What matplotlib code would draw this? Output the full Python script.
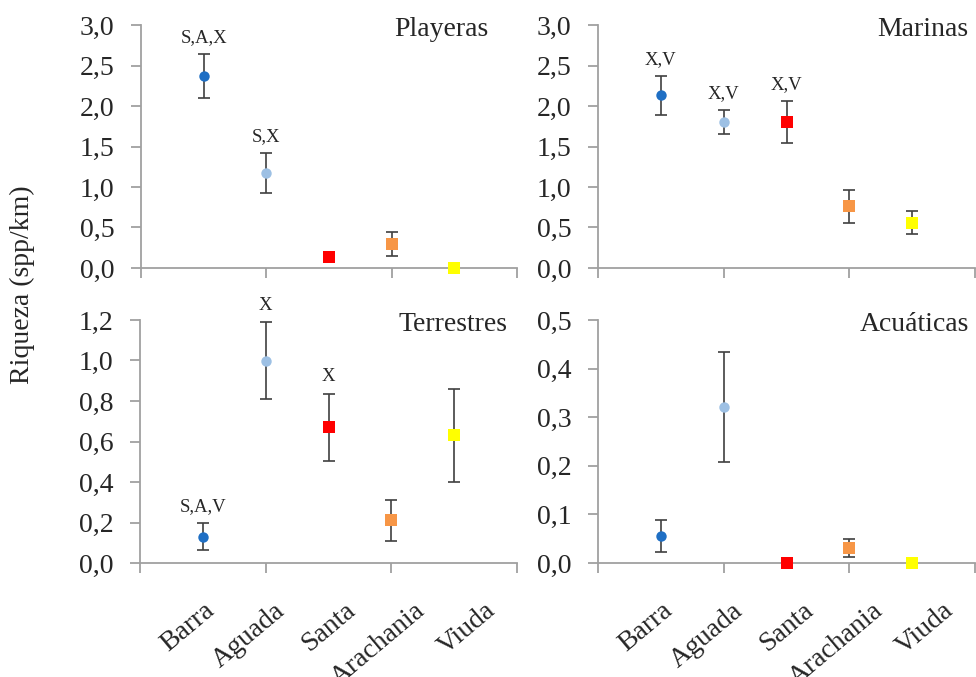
import numpy as np
import matplotlib
matplotlib.use("Agg")
import matplotlib.pyplot as plt
from matplotlib.ticker import FuncFormatter, MultipleLocator

# Sites and their plotting styles
sites = ["Barra", "Aguada", "Santa", "Arachania", "Viuda"]
site_colors = ["#1f6fc4", "#9dc0e4", "#ff0000", "#f79646", "#ffff00"]
site_markers = ["o", "o", "s", "s", "s"]

# Mean richness (spp/km) and error (+/-) per bird group
playeras_mean = [2.37, 1.17, 0.13, 0.30, 0.00]
playeras_err = [0.27, 0.25, 0.00, 0.15, 0.00]
playeras_tags = ["S,A,X", "S,X", "", "", ""]

marinas_mean = [2.13, 1.80, 1.80, 0.76, 0.56]
marinas_err = [0.24, 0.15, 0.26, 0.20, 0.14]
marinas_tags = ["X,V", "X,V", "X,V", "", ""]

terrestres_mean = [0.13, 1.00, 0.67, 0.21, 0.63]
terrestres_err = [0.068, 0.19, 0.167, 0.103, 0.23]
terrestres_tags = ["S,A,V", "X", "X", "", ""]

acuaticas_mean = [0.056, 0.321, 0.000, 0.031, 0.000]
acuaticas_err = [0.033, 0.113, 0.000, 0.018, 0.000]
acuaticas_tags = ["", "", "", "", ""]

serif = "Liberation Serif"
text_color = "#262626"
axis_color = "#a0a0a0"

fig = plt.figure(figsize=(9.76, 6.77), dpi=100)

W, H = 976.0, 677.0
panels = [
    # (left px, top px, right px, bottom px)
    (141, 25, 517, 268),
    (598, 25, 975, 268),
    (140, 320, 517, 563),
    (598, 320, 975, 563),
]

groups = [
    ("Playeras", playeras_mean, playeras_err, playeras_tags, 3.0, 0.5, 0.923),
    ("Marinas", marinas_mean, marinas_err, marinas_tags, 3.0, 0.5, 0.981),
    ("Terrestres", terrestres_mean, terrestres_err, terrestres_tags, 1.2, 0.2, 0.975),
    ("Acuáticas", acuaticas_mean, acuaticas_err, acuaticas_tags, 0.5, 0.1, 0.984),
]

fmt = FuncFormatter(lambda v, p: f"{v:.1f}".replace(".", ","))
xpos = np.arange(1, 6)

for k, ((l, t, r, b), (name, mean, err, tags, ymax, ystep, title_x)) in enumerate(zip(panels, groups)):
    ax = fig.add_axes([l / W, 1 - b / H, (r - l) / W, (b - t) / H])
    ax.set_xlim(0, 6)
    ax.set_ylim(0, ymax)

    for i in range(5):
        ax.errorbar(xpos[i], mean[i], yerr=err[i] if err[i] > 0 else None,
                    fmt="none", ecolor="#404040", elinewidth=1.2,
                    capsize=4, capthick=1.2, zorder=2, clip_on=False)
        ax.plot(xpos[i], mean[i], marker=site_markers[i],
                color=site_colors[i], markersize=7.5 if site_markers[i] == "o" else 8,
                markeredgewidth=0, linestyle="none", zorder=3, clip_on=False)
        if tags[i]:
            ax.annotate(tags[i], (xpos[i], mean[i] + err[i]),
                        xytext=(0, 12), textcoords="offset points",
                        ha="center", va="center", fontsize=13.5,
                        family=serif, color=text_color, annotation_clip=False)

    ax.text(title_x, 0.98, name, transform=ax.transAxes, ha="right",
            va="center", fontsize=20, family=serif, color=text_color)

    for s in ["top", "right"]:
        ax.spines[s].set_visible(False)
    for s in ["left", "bottom"]:
        ax.spines[s].set_color(axis_color)
        ax.spines[s].set_linewidth(1.3)

    ax.xaxis.set_major_locator(MultipleLocator(2))
    ax.yaxis.set_major_locator(MultipleLocator(ystep))
    ax.yaxis.set_major_formatter(fmt)
    ax.tick_params(axis="x", length=7, width=1.3, color=axis_color,
                   labelbottom=False)
    ax.tick_params(axis="y", length=7, width=1.3, color=axis_color,
                   pad=12, labelsize=20, labelcolor=text_color)
    for lab in ax.get_yticklabels():
        lab.set_family(serif)

    # rotated site names under the lower panels
    if k >= 2:
        label_x = 1.27 + 1.115 * np.arange(5)
        for i, s in enumerate(sites):
            ax.text(label_x[i], -0.144, s, transform=ax.get_xaxis_transform(),
                    rotation=40, ha="right", va="top", fontsize=20,
                    family=serif, color=text_color, clip_on=False)

fig.text(22 / W, 1 - 285 / H, "Riqueza (spp/km)", rotation=90,
         ha="center", va="center", fontsize=20, family=serif, color=text_color)

fig.savefig("out.png", dpi=100, facecolor="white")
